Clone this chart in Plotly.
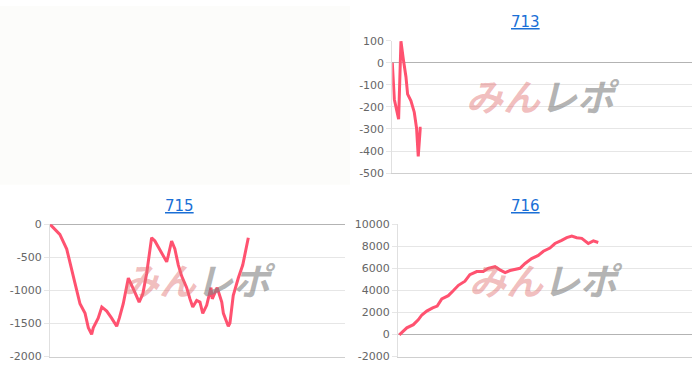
import plotly.graph_objects as go

# ---- data ----
titles = ["713", "715", "716"]

x713 = [0, 60, 190, 260, 330, 410, 460, 560, 660, 730, 780, 810, 840, 880]
y713 = [0, -165, -256, 98, 17, -63, -142, -172, -224, -297, -425, -355, -297, -297]

x715 = [0, 100, 200, 300, 510, 610, 760, 915, 1070, 1170, 1270, 1320, 1470, 1580, 1730,
        1880, 2035, 2115, 2235, 2390, 2490, 2590, 2720, 2830, 2950, 3100, 3200, 3335, 3455,
        3560, 3610, 3710, 3810, 3915, 4020, 4170, 4270, 4355, 4475, 4575, 4660, 4780, 4910,
        4950, 5100, 5240, 5290, 5440, 5490, 5590, 5745, 5880, 6050]
y715 = [0, -48, -97, -155, -375, -594, -886, -1202, -1348, -1566, -1664, -1566, -1420, -1251,
        -1314, -1420, -1543, -1420, -1202, -813, -934, -1032, -1178, -1056, -740, -204, -253,
        -375, -472, -569, -472, -253, -375, -618, -788, -959, -1129, -1251, -1153, -1178,
        -1348, -1226, -959, -1129, -959, -1178, -1348, -1543, -1494, -1080, -813, -618, -204]

x716 = [40, 270, 470, 620, 730, 880, 1060, 1200, 1340, 1540, 1690, 1850, 2050, 2200, 2410,
        2610, 2760, 2970, 3120, 3280, 3430, 3735, 3890, 4090, 4295, 4450, 4650, 4805, 5010,
        5165, 5320, 5470, 5625, 5825, 5980, 6130]
y716 = [-40, 600, 890, 1330, 1770, 2120, 2410, 2580, 3230, 3520, 3960, 4460, 4830, 5420,
        5710, 5710, 6000, 6150, 5860, 5620, 5800, 6000, 6440, 6880, 7170, 7550, 7840, 8250,
        8540, 8780, 8930, 8780, 8720, 8250, 8490, 8340]

ticks713 = [100, 0, -100, -200, -300, -400, -500]
ticks715 = [0, -500, -1000, -1500, -2000]
ticks716 = [10000, 8000, 6000, 4000, 2000, 0, -2000]
tick_labels = [[str(v) for v in t] for t in (ticks713, ticks715, ticks716)]

yranges = [[-500, 100], [-2000, 0], [-2000, 10000]]
xmax = 9000

W, H = 700, 378
LINE = "rgb(255,82,112)"
FONT = "DejaVu Sans"

# panel boxes in pixels: (left, right, top, bottom)
boxes = [(392.3, 691.7, 36, 173), (50, 345, 226, 363), (398, 692, 226, 363)]
title_pos = [(525, 17), (179, 207), (525, 207)]

fig = go.Figure()
series = [(x713, y713), (x715, y715), (x716, y716)]
tickvals = [ticks713, ticks715, ticks716]

for i, ((xs, ys), (l, r, t, b)) in enumerate(zip(series, boxes)):
    n = "" if i == 0 else str(i + 1)
    fig.add_trace(go.Scatter(x=xs, y=ys, mode="lines", xaxis="x" + n, yaxis="y" + n,
                             line=dict(color=LINE, width=3), showlegend=False,
                             hoverinfo="skip"))
    fig.layout["xaxis" + n] = dict(domain=[l / W, r / W], range=[0, xmax], anchor="y" + n,
                                   showgrid=False, zeroline=False, showticklabels=False,
                                   showline=True, linecolor="#cfcfcf", linewidth=1,
                                   fixedrange=True)
    fig.layout["yaxis" + n] = dict(domain=[1 - b / H, 1 - t / H], range=yranges[i],
                                   tickmode="array", tickvals=tickvals[i],
                                   ticktext=tick_labels[i], anchor="x" + n,
                                   showgrid=True, gridcolor="#e6e6e6", gridwidth=1,
                                   zeroline=True, zerolinecolor="#b3b3b3", zerolinewidth=1,
                                   showline=True, linecolor="#e0e0e0", linewidth=1,
                                   ticks="outside", ticklen=5, tickcolor="#e6e6e6",
                                   tickfont=dict(family=FONT, size=11, color="#666666"),
                                   fixedrange=True)
    # title
    tx, ty = title_pos[i]
    fig.add_annotation(x=tx / W, y=1 - ty / H, xref="paper", yref="paper",
                       text="<u>" + titles[i] + "</u>", showarrow=False,
                       font=dict(family=FONT, size=15, color="#1a6fd6"),
                       xanchor="center", yanchor="middle")
    # watermark
    cx = (l + r) / 2 + 1
    cy = (t + b) / 2 - 12
    fig.add_annotation(x=cx / W, y=1 - cy / H, xref="paper", yref="paper",
                       text="<b><i><span style='color:rgba(225,110,110,0.45)'>みん</span>"
                            "<span style='color:rgba(130,130,130,0.6)'>レポ</span></i></b>",
                       showarrow=False,
                       font=dict(family="Noto Sans CJK JP", size=37),
                       xanchor="center", yanchor="middle")

fig.add_shape(type="rect", xref="paper", yref="paper", x0=0, x1=350 / W,
              y0=1 - 185 / H, y1=1, fillcolor="#fcfcfa", line=dict(width=0), layer="below")

fig.update_layout(width=W, height=H, margin=dict(l=0, r=0, t=0, b=0),
                  paper_bgcolor="white", plot_bgcolor="rgba(0,0,0,0)", showlegend=False)

fig.write_html("out.html", config={"displayModeBar": False})
